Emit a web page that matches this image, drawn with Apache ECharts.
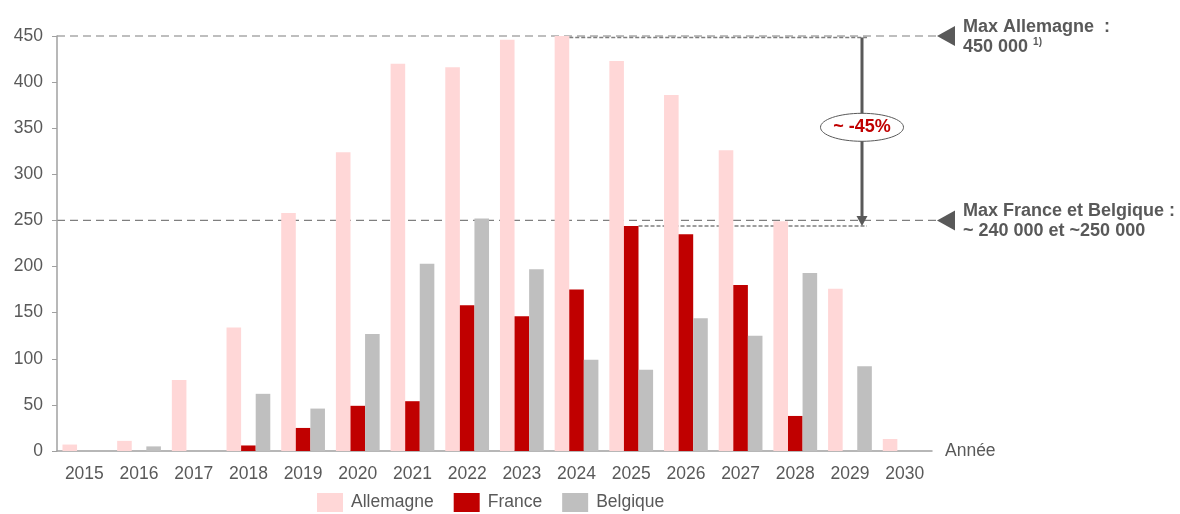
<!DOCTYPE html>
<html>
<head>
<meta charset="utf-8">
<script src="https://cdn.jsdelivr.net/npm/echarts@6/dist/echarts.min.js"></script>
<style>
  html, body { margin: 0; padding: 0; background: #fff; }
  #chart { width: 1180px; height: 514px; }
</style>
</head>
<body>
<div id="chart"></div>
<script>
// Categories (years)
const years = ['2015', '2016', '2017', '2018', '2019', '2020', '2021', '2022',
               '2023', '2024', '2025', '2026', '2027', '2028', '2029', '2030'];

// Values in thousands
const allemagne = [7, 11, 77, 134, 258, 324, 420, 416, 446, 450, 423, 386, 326, 249, 176, 13];
const france    = [null, null, null, 6, 25, 49, 54, 158, 146, 175, 244, 235, 180, 38, null, null];
const belgique  = [null, 5, null, 62, 46, 127, 203, 252, 197, 99, 88, 144, 125, 193, 92, null];

// Y axis ticks
const yMin = 0, yMax = 450, yStep = 50;

// Reference levels and annotation texts
const maxAllemagne = 450;
const maxFranceBelgique = 250;
const dropLabel = '~ -45%';
const noteAllemagne = ['Max Allemagne  :', '450 000 {sup|1)}'];
const noteFranceBelgique = ['Max France et Belgique :', '~ 240 000 et ~250 000'];
const axisName = 'Année';

const FONT = "'Liberation Sans', Arial, sans-serif";
const TXT = '#595959';
const C_ALL = '#FFD7D7', C_FR = '#C00000', C_BE = '#BFBFBF';
const FS = 17.5;

const chart = echarts.init(document.getElementById('chart'), null, { renderer: 'canvas' });

const GRID_LEFT = 57, GRID_RIGHT = 248, GRID_TOP = 36, GRID_BOTTOM = 63;

const barSeries = (name, data, color) => ({
  name, type: 'bar', data,
  barGap: 0, barCategoryGap: '20%',
  itemStyle: { color },
  emphasis: { disabled: true },
  animation: false
});

chart.setOption({
  animation: false,
  textStyle: { fontFamily: FONT },
  grid: { left: GRID_LEFT, right: GRID_RIGHT, top: GRID_TOP, bottom: GRID_BOTTOM },
  legend: {
    data: ['Allemagne', 'France', 'Belgique'],
    left: 312, top: 488,
    itemWidth: 26, itemHeight: 19, itemGap: 20,
    icon: 'rect',
    textStyle: { color: TXT, fontSize: FS, fontFamily: FONT, padding: [0, 0, 0, 3] }
  },
  xAxis: {
    type: 'category',
    data: years,
    name: axisName,
    nameLocation: 'end',
    nameGap: 13,
    nameTextStyle: { color: TXT, fontSize: FS, fontFamily: FONT, verticalAlign: 'middle' },
    axisLine: { lineStyle: { color: '#A0A0A0', width: 1.5 } },
    axisTick: { show: false },
    axisLabel: { color: TXT, fontSize: FS, fontFamily: FONT, margin: 14 }
  },
  yAxis: {
    type: 'value',
    min: yMin, max: yMax, interval: yStep,
    axisLine: { show: true, lineStyle: { color: '#A0A0A0', width: 1.5 } },
    axisTick: { show: true, length: 5, lineStyle: { color: '#A0A0A0', width: 1 } },
    splitLine: { show: false },
    axisLabel: { color: TXT, fontSize: FS, fontFamily: FONT, margin: 14 }
  },
  series: [
    barSeries('Allemagne', allemagne, C_ALL),
    barSeries('France', france, C_FR),
    barSeries('Belgique', belgique, C_BE)
  ]
});

// Annotation layer: reference lines, arrow, labels
function px(i, v) { return chart.convertToPixel({ xAxisIndex: 0, yAxisIndex: 0 }, [i, v]); }

const band = px(1, 0)[0] - px(0, 0)[0];
const barW = band * 0.8 / 3;
const yTop = px(0, maxAllemagne)[1];
const yMid = px(0, maxFranceBelgique)[1];
const xStart = GRID_LEFT;
const xEnd = 937;
const arrowX = 862;

// peak bars: Allemagne max and France max
const iAll = allemagne.indexOf(Math.max(...allemagne));
const frVals = france.map(v => v == null ? -1 : v);
const iFr = frVals.indexOf(Math.max(...frVals));
const allPeakRight = px(iAll, 0)[0] - barW / 2;
const frPeakRight = px(iFr, 0)[0] + barW / 2;
const yAllPeak = px(0, allemagne[iAll])[1] + 1.5;
const yFrPeak = px(0, france[iFr])[1];

const dashed = { stroke: '#7F7F7F', lineWidth: 1.2, lineDash: [8, 5] };
const dotted = { stroke: '#7F7F7F', lineWidth: 1.6, lineDash: [4, 2] };

function tri(x, y) {
  return {
    type: 'polygon', silent: true,
    shape: { points: [[x, y], [x + 18, y - 10], [x + 18, y + 10]] },
    style: { fill: '#595959' }
  };
}

function note(lines, y) {
  return {
    type: 'text', silent: true,
    x: 963, y: y,
    style: {
      text: lines.join('\n'),
      font: `bold 18px ${FONT}`,
      fill: TXT,
      lineHeight: 20,
      verticalAlign: 'middle',
      align: 'left',
      rich: {
        sup: { fontSize: 10, fontWeight: 'bold', fill: TXT, verticalAlign: 'top', padding: [0, 0, 8, 0], fontFamily: FONT }
      }
    }
  };
}

const ellipseY = px(0, 351)[1];

chart.setOption({
  graphic: [
    { type: 'line', silent: true, shape: { x1: xStart, y1: yTop, x2: xEnd, y2: yTop }, style: dashed },
    { type: 'line', silent: true, shape: { x1: xStart, y1: yMid, x2: xEnd, y2: yMid }, style: dashed },
    { type: 'line', silent: true, shape: { x1: allPeakRight, y1: yAllPeak, x2: arrowX + 5, y2: yAllPeak }, style: dotted },
    { type: 'line', silent: true, shape: { x1: frPeakRight, y1: yFrPeak, x2: arrowX + 5, y2: yFrPeak }, style: dotted },
    { type: 'line', silent: true, shape: { x1: arrowX, y1: yAllPeak, x2: arrowX, y2: yFrPeak - 8 },
      style: { stroke: '#595959', lineWidth: 3 } },
    { type: 'polygon', silent: true,
      shape: { points: [[arrowX - 5.5, yFrPeak - 10], [arrowX + 5.5, yFrPeak - 10], [arrowX, yFrPeak]] },
      style: { fill: '#595959' } },
    { type: 'ellipse', silent: true,
      shape: { cx: arrowX, cy: ellipseY, rx: 41.5, ry: 14 },
      style: { fill: '#fff', stroke: '#595959', lineWidth: 1 } },
    { type: 'text', silent: true, x: arrowX, y: ellipseY,
      style: { text: dropLabel, font: `bold 18px ${FONT}`, fill: '#C00000', align: 'center', verticalAlign: 'middle' } },
    tri(937, yTop),
    tri(937, yMid),
    note(noteAllemagne, yTop + 1),
    note(noteFranceBelgique, yMid + 1)
  ]
});
</script>
</body>
</html>
